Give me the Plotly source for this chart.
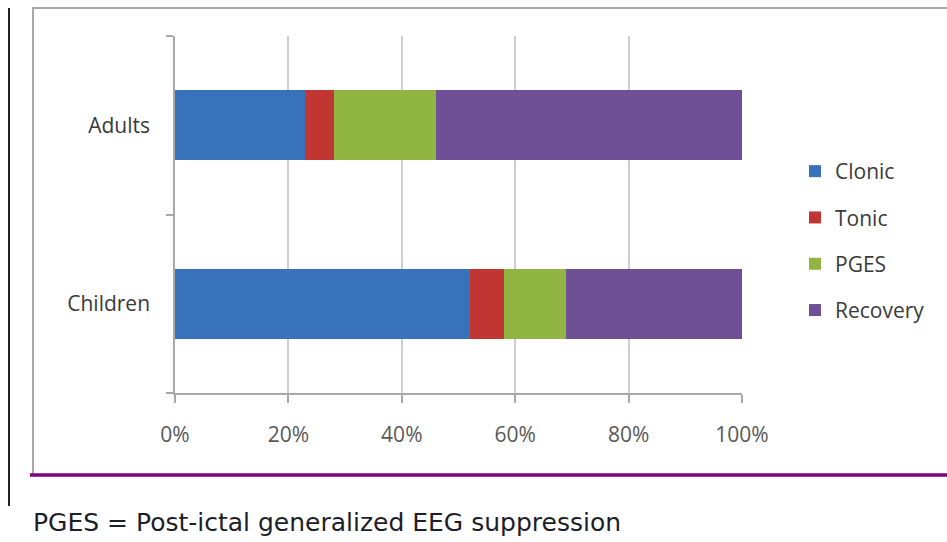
import plotly.graph_objects as go

# Seizure phase durations as share of total (%)
groups = ["Children", "Adults"]
clonic = [52, 23]
tonic = [6, 5]
pges = [11, 18]
recovery = [31, 54]

series = [
    ("Clonic", clonic, "#3772bb"),
    ("Tonic", tonic, "#c13633"),
    ("PGES", pges, "#90b542"),
    ("Recovery", recovery, "#6f4f96"),
]

W, H = 947, 542
L, R, T, B = 175, 742, 36, 393  # plot area in pixels


def px(x):
    return (x - L) / (R - L)


def py(y):
    return (B - y) / (B - T)


FONT = "Open Sans, Lato, sans-serif"

fig = go.Figure()
for name, vals, color in series:
    fig.add_trace(go.Bar(
        y=groups, x=vals, name=name, orientation="h",
        marker=dict(color=color, line=dict(width=0)),
        width=0.39, legendgroup=name,
    ))

fig.update_layout(
    width=W, height=H,
    margin=dict(l=L, r=W - R, t=T, b=H - B),
    barmode="stack",
    plot_bgcolor="white", paper_bgcolor="white",
    showlegend=True,
    legend=dict(
        x=px(795), y=py(151), xanchor="left", yanchor="top",
        font=dict(family=FONT, size=21, color="#3a3a3a"),
        traceorder="grouped", tracegroupgap=16, itemwidth=30,
        bgcolor="rgba(0,0,0,0)",
    ),
    xaxis=dict(
        range=[0, 100], dtick=20, ticksuffix="%",
        showgrid=True, gridcolor="#cfcfcf", gridwidth=1.5,
        showline=True, linecolor="#a9a9a9", linewidth=1.5,
        ticks="outside", ticklen=8, tickcolor="#a9a9a9", tickwidth=1.5,
        tickfont=dict(family=FONT, size=21, color="#595959"),
        ticklabelstandoff=14, zeroline=False,
        fixedrange=True,
    ),
    yaxis=dict(
        showgrid=False, showline=True, linecolor="#a9a9a9", linewidth=1.5,
        ticks="outside", ticklen=7, tickcolor="#a9a9a9", tickwidth=1.5,
        tickson="boundaries",
        tickfont=dict(family=FONT, size=21, color="#3a3a3a"),
        ticklabelstandoff=19,
        fixedrange=True,
    ),
    shapes=[
        # chart frame
        dict(type="rect", xref="paper", yref="paper",
             x0=px(33), x1=px(960), y0=py(475), y1=py(8),
             line=dict(color="#a8a8a8", width=2), layer="below"),
        # purple rule under the chart
        dict(type="line", xref="paper", yref="paper",
             x0=px(30), x1=px(960), y0=py(475), y1=py(475),
             line=dict(color="#820082", width=3.5)),
        # dark margin rule at the left
        dict(type="line", xref="paper", yref="paper",
             x0=px(9), x1=px(9), y0=py(8), y1=py(506),
             line=dict(color="#222222", width=2)),
    ],
    annotations=[
        dict(text="PGES = Post-ictal generalized EEG suppression",
             xref="paper", yref="paper", x=px(31), y=py(522),
             xanchor="left", yanchor="middle", showarrow=False,
             font=dict(family="DejaVu Sans, Liberation Sans, sans-serif", size=25, color="#1e1e2a")),
    ],
)

fig.write_html("out.html")
